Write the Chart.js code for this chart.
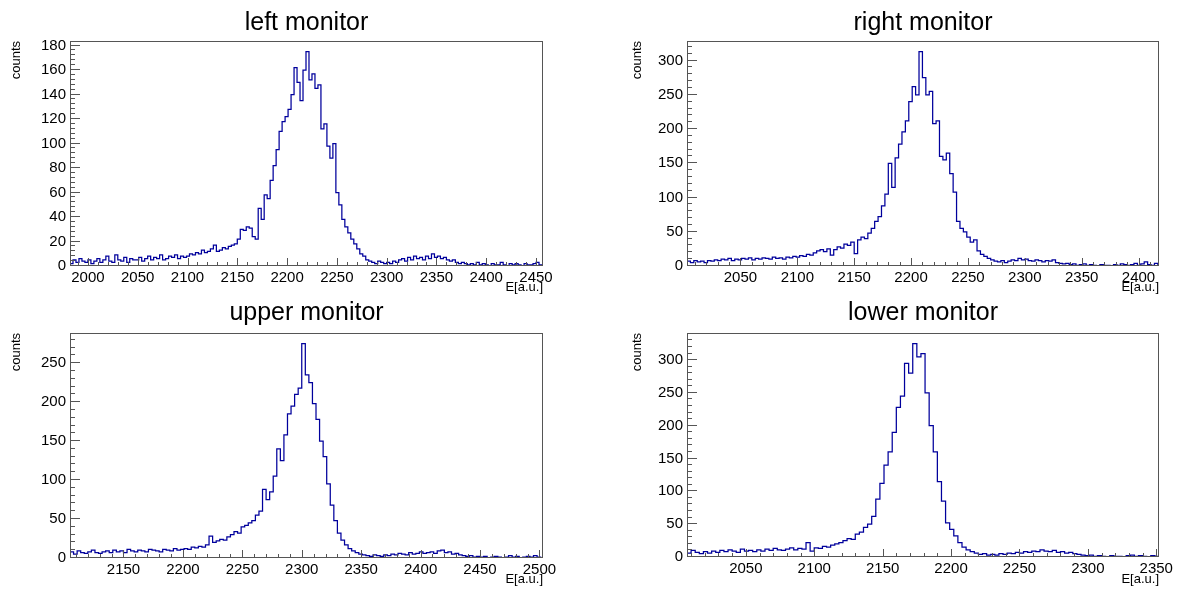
<!DOCTYPE html>
<html>
<head>
<meta charset="utf-8">
<title>monitor spectra</title>
<script src="https://cdn.jsdelivr.net/npm/chart.js@4.4.1/dist/chart.umd.min.js"></script>
<style>
  html, body { margin: 0; padding: 0; background: #fff; }
  #wrap { position: relative; width: 1179px; height: 590px; overflow: hidden; }
  #wrap canvas { position: absolute; }
</style>
</head>
<body>
<div id="wrap"></div>
<script>
// all four histograms use 3-unit bins, counts
const binWidth = 3;

// left monitor
const leftTitle = 'left monitor';
const leftStart = 1982;
const leftCounts = [
  4, 2, 5, 3, 6, 4, 3, 5, 2, 4, 6, 3, 5, 8, 4, 3, 9, 5, 4, 7, 3, 6, 5,
  5, 7, 4, 6, 8, 5, 7, 6, 9, 5, 6, 8, 7, 9, 6, 8, 7,
  8, 10, 9, 11, 10, 13, 11, 12, 14, 17, 12, 13, 15, 14, 16, 17, 18,
  22, 30, 29, 32, 31, 24, 22, 47, 38, 58, 55, 70, 82, 95, 110, 118,
  122, 128, 140, 162, 150, 135, 160, 175, 152, 157, 145, 148, 112, 116, 98, 88, 100,
  60, 50, 38, 32, 27, 22, 18, 14, 10, 8, 5, 4, 3, 2, 4, 3, 2,
  3, 2, 4, 3, 5, 6, 4, 7, 5, 8, 6, 7, 5, 8, 6, 10, 7,
  8, 6, 7, 5, 4, 5, 3, 2, 3, 2, 1, 2, 1, 3, 1, 2, 1, 0, 2, 1, 1, 3, 1, 0, 2, 1, 2, 1, 0, 2, 1, 1, 2, 3, 1
];
const leftXRange = [1982, 2457];
const leftXTicks = [2000, 2050, 2100, 2150, 2200, 2250, 2300, 2350, 2400, 2450];
const leftYTicks = [0, 20, 40, 60, 80, 100, 120, 140, 160, 180];

// right monitor
const rightTitle = 'right monitor';
const rightStart = 2003;
const rightCounts = [
  6, 7, 5, 8, 6, 7, 5, 8, 7, 9, 8, 10, 9, 11, 8, 10, 9, 11, 10, 12, 9, 11, 10, 12, 11, 10, 13, 11, 12, 10, 13, 12, 14,
  13, 15, 14, 17, 16, 19, 22, 24, 21, 25, 16, 24, 28, 26, 32, 30, 35,
  18, 38, 42, 40, 48, 55, 65, 72, 88, 105, 150, 115, 158, 178, 196, 212,
  240, 262, 250, 313, 275, 250, 255, 208, 212, 160, 155, 165, 135, 108, 65, 55, 50,
  42, 35, 38, 22, 17, 14, 11, 9, 7, 6, 8, 5, 7, 9, 8, 11, 9,
  10, 8, 7, 9, 8, 6, 8, 7, 9, 5, 4, 3, 4, 2, 3, 1, 2, 3, 1, 2, 1, 0, 2, 1, 1, 0, 2, 1, 3, 2, 1, 2, 4, 1, 3, 6, 2, 1, 4, 2
];
const rightXRange = [2003, 2418];
const rightXTicks = [2050, 2100, 2150, 2200, 2250, 2300, 2350, 2400];
const rightYTicks = [0, 50, 100, 150, 200, 250, 300];

// upper monitor
const upperTitle = 'upper monitor';
const upperStart = 2105;
const upperCounts = [
  6, 8, 5, 9, 7, 6, 8, 10, 7, 6, 8, 9, 7, 10, 8, 9, 7, 11, 9, 8, 10, 9, 8, 11, 10, 9, 8, 11, 10, 9, 12, 10, 11,
  12, 11, 14, 13, 15, 14, 17, 28, 20, 22, 24, 23, 27, 30, 34, 32, 40,
  42, 45, 48, 55, 60, 88, 75, 85, 105, 140, 125, 158, 185, 195, 210, 218, 275,
  235, 225, 198, 178, 150, 130, 95, 68, 48, 32, 23, 17, 12, 9, 7, 5, 4,
  3, 2, 4, 3, 2, 4, 3, 5, 4, 6, 5, 4, 7, 5, 6, 8, 6, 7, 8, 6, 9, 10, 7, 8, 5,
  6, 4, 3, 2, 3, 1, 2, 1, 2, 0, 1, 2, 1, 0, 1, 3, 1, 2, 0, 1, 2, 1, 3, 1, 0
];
const upperXRange = [2105, 2503];
const upperXTicks = [2150, 2200, 2250, 2300, 2350, 2400, 2450, 2500];
const upperYTicks = [0, 50, 100, 150, 200, 250];

// lower monitor
const lowerTitle = 'lower monitor';
const lowerStart = 2007;
const lowerCounts = [
  8, 6, 10, 7, 5, 8, 6, 9, 7, 10, 8, 11, 9, 7, 12, 9, 10, 8, 11, 9, 12, 10, 13, 11, 10, 12, 14, 11, 13, 12, 22,
  9, 14, 13, 16, 15, 18, 20, 22, 25, 28, 27, 35, 38, 45, 50, 62, 88,
  112, 140, 160, 190, 228, 245, 295, 280, 325, 305, 310, 250, 200, 160, 115, 85, 52,
  42, 32, 22, 15, 11, 8, 6, 4, 5, 3, 4, 3, 5, 4, 6, 5, 7,
  6, 8, 7, 9, 8, 11, 9, 8, 10, 7, 8, 6, 7, 5, 4, 3, 2, 3, 1, 2, 1, 0, 2, 1, 1, 0, 2, 3, 1, 2, 1, 0, 2, 1, 0
];
const lowerXRange = [2007, 2352];
const lowerXTicks = [2050, 2100, 2150, 2200, 2250, 2300, 2350];
const lowerYTicks = [0, 50, 100, 150, 200, 250, 300];

const xTitle = 'E[a.u.]';
const yTitle = 'counts';

Chart.defaults.font.family = "'Liberation Sans', Arial, Helvetica, sans-serif";
Chart.defaults.color = '#000';

const histColor = '#00009c';
const frameColor = '#555';

// ROOT style frame: box round the plot, ticks pointing inwards
const rootFrame = {
  id: 'rootFrame',
  afterDatasetsDraw(chart, args, o) {
    const { ctx, chartArea: a } = chart;
    const x = chart.scales.x;
    const y = chart.scales.y;
    ctx.save();
    ctx.strokeStyle = o.color;
    ctx.lineWidth = 1;
    ctx.beginPath();
    for (let v = Math.ceil(x.min / o.xMinor) * o.xMinor; v <= x.max; v += o.xMinor) {
      const px = Math.round(x.getPixelForValue(v)) + 0.5;
      const len = v % o.xMajor === 0 ? o.xMajorLen : o.xMinorLen;
      ctx.moveTo(px, a.bottom);
      ctx.lineTo(px, a.bottom - len);
    }
    for (let v = 0; v <= y.max; v += o.yMinor) {
      const py = Math.round(y.getPixelForValue(v)) - 0.5;
      const len = v % o.yMajor === 0 ? o.yMajorLen : o.yMinorLen;
      ctx.moveTo(a.left, py);
      ctx.lineTo(a.left + len, py);
    }
    ctx.stroke();
    ctx.strokeRect(a.left + 0.5, a.top + 0.5, a.width - 1, a.height - 1);
    ctx.restore();
  }
};

const panels = [
  { title: leftTitle, start: leftStart, counts: leftCounts, xRange: leftXRange, xTicks: leftXTicks, yTicks: leftYTicks,
    yMinor: 4, box: [0, 0, 590, 295], frame: [70, 41, 543, 266], countsX: 16, titleY: 23.3, labelY: 289 },
  { title: rightTitle, start: rightStart, counts: rightCounts, xRange: rightXRange, xTicks: rightXTicks, yTicks: rightYTicks,
    yMinor: 10, box: [590, 0, 589, 295], frame: [687, 41, 1159, 266], countsX: 637, titleY: 23.3, labelY: 289 },
  { title: upperTitle, start: upperStart, counts: upperCounts, xRange: upperXRange, xTicks: upperXTicks, yTicks: upperYTicks,
    yMinor: 10, box: [0, 295, 590, 295], frame: [70, 333, 543, 558], countsX: 16, titleY: 313.3, labelY: 579 },
  { title: lowerTitle, start: lowerStart, counts: lowerCounts, xRange: lowerXRange, xTicks: lowerXTicks, yTicks: lowerYTicks,
    yMinor: 10, box: [590, 295, 589, 295], frame: [687, 333, 1159, 557], countsX: 637, titleY: 313.3, labelY: 579 }
];

const wrap = document.getElementById('wrap');

panels.forEach(p => {
  const [bx, by, bw, bh] = p.box;
  const [fl, ft, fr, fb] = p.frame;
  const canvas = document.createElement('canvas');
  canvas.width = bw;
  canvas.height = bh;
  canvas.style.left = bx + 'px';
  canvas.style.top = by + 'px';
  wrap.appendChild(canvas);

  // bin low edges, plus the upper edge of the last bin
  const points = p.counts.map((c, k) => ({ x: p.start + k * binWidth, y: c }));
  points.push({ x: p.start + p.counts.length * binWidth, y: p.counts[p.counts.length - 1] });

  const padLeft = p.countsX - bx - 7.8;
  const titleTop = p.titleY - by - 15;

  new Chart(canvas, {
    type: 'line',
    data: {
      datasets: [{
        data: points,
        borderColor: histColor,
        borderWidth: 1.25,
        pointRadius: 0,
        stepped: 'after',
        fill: false
      }]
    },
    options: {
      responsive: false,
      animation: false,
      devicePixelRatio: 1,
      layout: { padding: { left: padLeft, right: bx + bw - fr, top: 0, bottom: 0 } },
      plugins: {
        legend: { display: false },
        tooltip: { enabled: false },
        title: {
          display: true,
          text: p.title,
          fullSize: false,
          color: '#000',
          font: { size: 25, weight: 'normal' },
          padding: { top: titleTop, bottom: ft - by - 30 - titleTop }
        },
        rootFrame: {
          color: frameColor,
          xMajor: 50, xMinor: 10, xMajorLen: 8, xMinorLen: 4,
          yMajor: p.yTicks[1] - p.yTicks[0], yMinor: p.yMinor, yMajorLen: 10, yMinorLen: 5
        }
      },
      scales: {
        x: {
          type: 'linear',
          min: p.xRange[0],
          max: p.xRange[1],
          afterBuildTicks: s => { s.ticks = p.xTicks.map(v => ({ value: v })); },
          afterFit: s => { s.height = by + bh - fb; },
          grid: { display: false, drawTicks: false },
          border: { display: false },
          ticks: { font: { size: 15 }, color: '#000', padding: 3, maxRotation: 0, autoSkip: false, callback: v => String(v) },
          title: { display: true, text: xTitle, align: 'end', color: '#000', font: { size: 13 },
                   padding: { top: 0, bottom: Math.max(0, by + bh - p.labelY - 7.8) } }
        },
        y: {
          type: 'linear',
          min: 0,
          max: 1.05 * Math.max(...p.counts),
          afterBuildTicks: s => { s.ticks = p.yTicks.map(v => ({ value: v })); },
          afterFit: s => { s.width = fl - bx - padLeft; },
          grid: { display: false, drawTicks: false },
          border: { display: false },
          ticks: { font: { size: 15 }, color: '#000', padding: 4, autoSkip: false, callback: v => String(v) },
          title: { display: true, text: yTitle, align: 'end', color: '#000', font: { size: 13 },
                   padding: { top: 0, bottom: 0 } }
        }
      }
    },
    plugins: [rootFrame]
  });
});
</script>
</body>
</html>
